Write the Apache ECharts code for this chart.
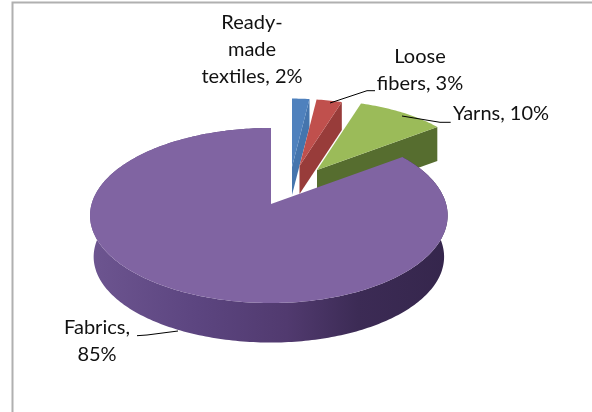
<!DOCTYPE html>
<html><head><meta charset="utf-8">
<style>html,body{margin:0;padding:0;background:#fff}#c{width:592px;height:412px}</style>
<script src="https://cdn.jsdelivr.net/npm/echarts@6/dist/echarts.min.js"></script>
</head><body><div id="c"></div>
<script>
const categories = ['Ready-made textiles', 'Loose fibers', 'Yarns', 'Fabrics'];
const values = [2, 3, 10, 85];
const labelTexts = ['Ready-\nmade\ntextiles, 2%', 'Loose\nfibers, 3%', 'Yarns, 10%', 'Fabrics,\n85%'];

// Per-slice look: apex on screen, radius scale, extrusion depth, colours, label and leader.
const sliceLook = [
  {ax:292, ay:167, s:0.9,  d:28, top:'#4f81bd', wall:'#4575ad', lx:252, ly:50,  leader:null},
  {ax:299.5, ay:166, s:0.88, d:28, top:'#c0504d', wall:'#983c3a', lx:420, ly:70, leader:[[330,103],[367,90.7],[375,90.7]]},
  {ax:317, ay:170, s:0.915, d:34, top:'#9bbb59', wall:'#566d2f', lx:501, ly:114, leader:[[402,116],[440,122.3],[450.7,122.3]]},
  {ax:271, ay:204, s:1,    d:42, top:'#8064a2', wall:null, lx:97, ly:341, leader:[[178,331],[147,335],[137,335.7]]}
];
const P = 0.1314, B = 86, AR = 175.1, AL = 179.4, BOTTOM_SCALE = 0.98;

function offset(deg, k) {
  const t = deg * Math.PI / 180, u = Math.sin(t), v = -Math.cos(t), w = 1 / (1 - P * v);
  return [(u < 0 ? AL : AR) * u * w * k, B * v * w * k];
}
const total = values.reduce((a, b) => a + b, 0);
function angles(i) {
  let s = 0;
  for (let j = 0; j < i; j++) s += values[j];
  return [s / total * 360, (s + values[i]) / total * 360];
}
function rim(look, a0, a1, k, dy) {
  const pts = [];
  const n = Math.max(2, Math.ceil(a1 - a0));
  for (let j = 0; j <= n; j++) {
    const o = offset(a0 + (a1 - a0) * j / n, look.s * k);
    pts.push([look.ax + o[0], look.ay + dy + o[1]]);
  }
  return pts;
}
function renderItem(params, api) {
  const i = params.dataIndex;
  api.value(0);
  const look = sliceLook[i];
  const [a0, a1] = angles(i);
  const children = [];
  const topRim = rim(look, a0, a1, 1, 0);
  if (look.wall) {
    const end = topRim[topRim.length - 1];
    children.push({type:'polygon', silent:true, shape:{points:[
      [look.ax, look.ay], end, [end[0], end[1] + look.d], [look.ax, look.ay + look.d]
    ]}, style:{fill:look.wall}});
  } else {
    const botRim = rim(look, a0, a1, BOTTOM_SCALE, look.d - 0.5);
    children.push({type:'polygon', silent:true, shape:{points:topRim.concat(botRim.reverse())},
      style:{fill:{type:'linear', x:0, y:0, x2:1, y2:0, colorStops:[
        {offset:0, color:'#6d5590'}, {offset:0.3, color:'#5c4580'}, {offset:0.55, color:'#513a6f'},
        {offset:0.75, color:'#3c2b55'}, {offset:1, color:'#35264c'}]}}});
  }
  children.push({type:'polygon', silent:true, shape:{points:[[look.ax, look.ay]].concat(topRim)}, style:{fill:look.top}});
  return {type:'group', children};
}
function renderLabel(params, api) {
  const i = params.dataIndex;
  api.value(0);
  const look = sliceLook[i];
  const children = [{type:'text', silent:true, style:{text:labelTexts[i], x:look.lx, y:look.ly, align:'center',
    verticalAlign:'middle', fontFamily:'Lato', fontSize:20, lineHeight:27, fill:'#111'}}];
  if (look.leader) children.push({type:'polyline', silent:true, shape:{points:look.leader}, style:{fill:null, stroke:'#000', lineWidth:1}});
  return {type:'group', children};
}
const chart = echarts.init(document.getElementById('c'), null, {renderer:'canvas'});
chart.setOption({
  animation:false,
  backgroundColor:'#fff',
  graphic:[{type:'polyline', silent:true, shape:{points:[[12.5,412],[12.5,2.5],[592,2.5]]}, style:{fill:null, stroke:'#b0b0b0', lineWidth:2}}],
  series:[
    {type:'custom', coordinateSystem:'none', renderItem, data:values.map(v=>[v]), silent:true, z:2},
    {type:'custom', coordinateSystem:'none', renderItem:renderLabel, data:values.map(v=>[v]), silent:true, z:3}
  ]
});
</script></body></html>
